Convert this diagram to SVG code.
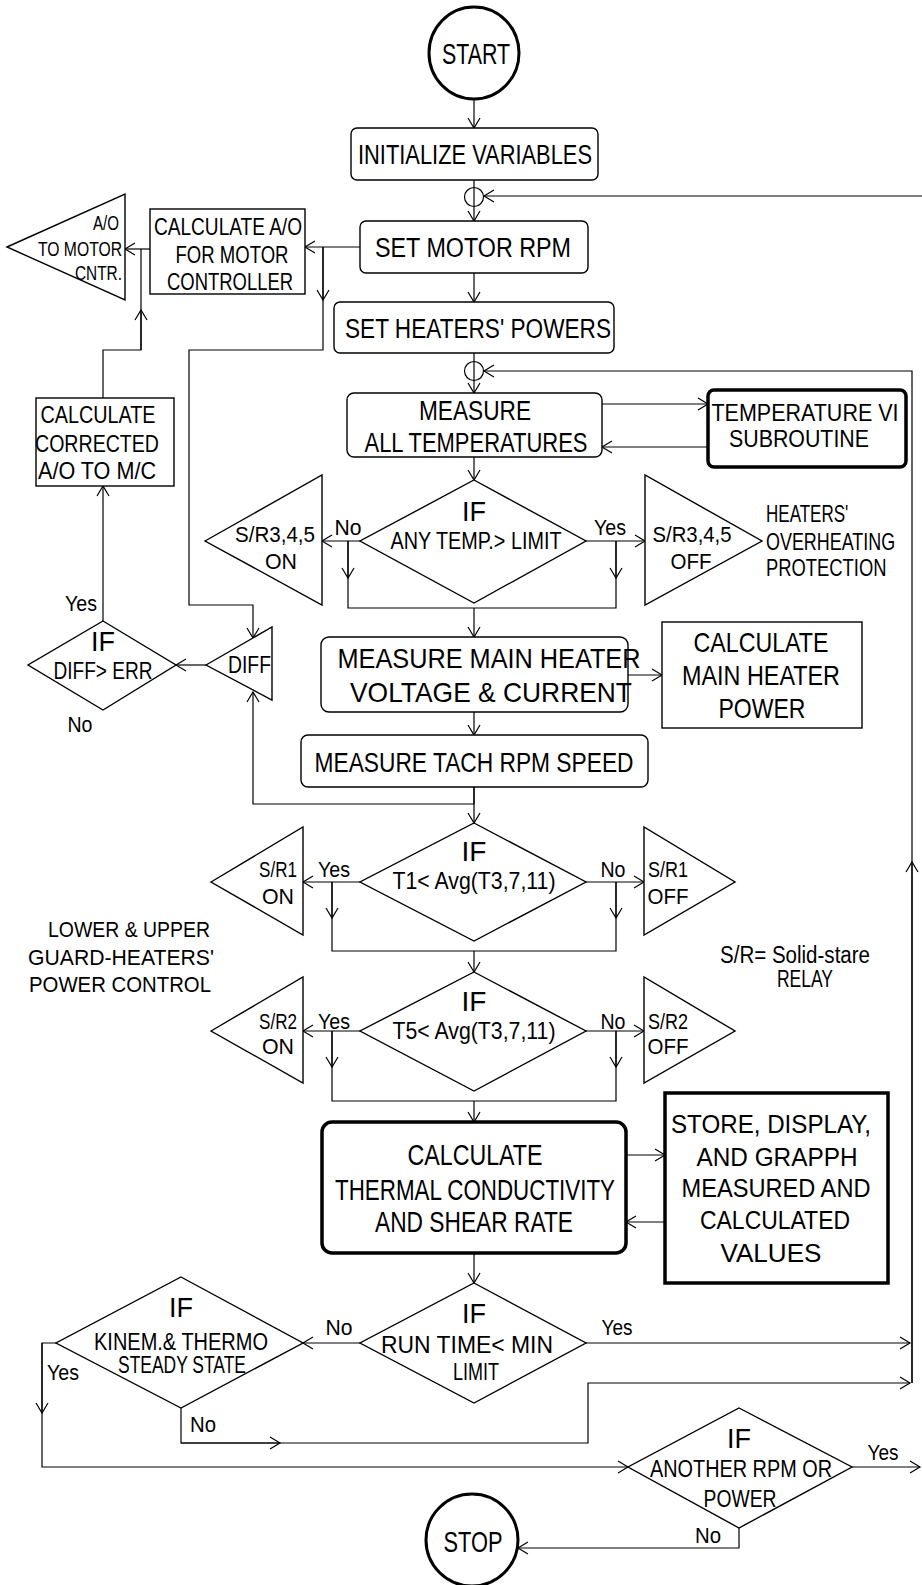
<svg xmlns="http://www.w3.org/2000/svg" width="922" height="1585" viewBox="0 0 922 1585">
<style>
text{font-family:"Liberation Sans",Arial,sans-serif;fill:#000}
.c{text-anchor:middle}
.e{text-anchor:end}
.bx{fill:#fff;stroke:#000;stroke-width:1.4}
.bt{fill:#fff;stroke:#000;stroke-width:3.5}
.ln{fill:none;stroke:#000;stroke-width:1.2}
.f18{font-size:20px}.f20{font-size:22px}.f21{font-size:23px}.f22{font-size:24px}.f23{font-size:25px}.f24{font-size:27px}.f26{font-size:28px}.f27{font-size:29px}
</style>
<defs>
<marker id="a" markerUnits="userSpaceOnUse" markerWidth="14" markerHeight="16" refX="12" refY="8" orient="auto"><path d="M2,2 L12,8 L2,14" fill="none" stroke="#000" stroke-width="1.2"/></marker>
</defs>
<rect width="922" height="1585" fill="#fff"/>
<g id="connectors" class="ln">
<path d="M474,99 V128" marker-end="url(#a)"/>
<path d="M474,180 V221" marker-end="url(#a)"/>
<path d="M922,196 H484" marker-end="url(#a)"/>
<path d="M360,247 H305" marker-end="url(#a)"/>
<path d="M150,249 H125" marker-end="url(#a)"/>
<path d="M103,398 V350 H141 V249"/>
<path d="M141,350 V310" marker-end="url(#a)"/>
<path d="M103,621 V486" marker-end="url(#a)"/>
<path d="M323,247 V350 H189 V605 H253 V638" marker-end="url(#a)"/>
<path d="M323,247 V300" marker-end="url(#a)"/>
<path d="M474,273 V302" marker-end="url(#a)"/>
<path d="M474,353 V393" marker-end="url(#a)"/>
<path d="M912,1383 V371 H484" marker-end="url(#a)"/>
<path d="M912,1383 V862" marker-end="url(#a)"/>
<path d="M602,404 H708" marker-end="url(#a)"/>
<path d="M708,447 H602" marker-end="url(#a)"/>
<path d="M474,457 V480" marker-end="url(#a)"/>
<path d="M360,541 H322" marker-end="url(#a)"/>
<path d="M586,541 H645" marker-end="url(#a)"/>
<path d="M348,541 V608 H616 V541"/>
<path d="M348,541 V578" marker-end="url(#a)"/>
<path d="M616,541 V578" marker-end="url(#a)"/>
<path d="M474,608 V637" marker-end="url(#a)"/>
<path d="M206,665 H176" marker-end="url(#a)"/>
<path d="M474,787 V804 H253 V692" marker-end="url(#a)"/>
<path d="M474,787 V823" marker-end="url(#a)"/>
<path d="M628,675 H662" marker-end="url(#a)"/>
<path d="M474,712 V735" marker-end="url(#a)"/>
<path d="M360,882 H303" marker-end="url(#a)"/>
<path d="M586,882 H644" marker-end="url(#a)"/>
<path d="M332,882 V951 H616 V882"/>
<path d="M332,882 V918" marker-end="url(#a)"/>
<path d="M616,882 V918" marker-end="url(#a)"/>
<path d="M474,951 V972" marker-end="url(#a)"/>
<path d="M360,1031 H303" marker-end="url(#a)"/>
<path d="M586,1031 H644" marker-end="url(#a)"/>
<path d="M332,1031 V1101 H616 V1031"/>
<path d="M332,1031 V1067" marker-end="url(#a)"/>
<path d="M616,1031 V1067" marker-end="url(#a)"/>
<path d="M474,1101 V1122" marker-end="url(#a)"/>
<path d="M626,1155 H665" marker-end="url(#a)"/>
<path d="M665,1222 H626" marker-end="url(#a)"/>
<path d="M474,1253 V1283" marker-end="url(#a)"/>
<path d="M360,1343 H303" marker-end="url(#a)"/>
<path d="M586,1343 H910" marker-end="url(#a)"/>
<path d="M56,1343 H42 V1467 H628" marker-end="url(#a)"/>
<path d="M42,1343 V1413" marker-end="url(#a)"/>
<path d="M181,1408 V1443 H588 V1383 H910" marker-end="url(#a)"/>
<path d="M181,1443 H280" marker-end="url(#a)"/>
<path d="M852,1467 H920" marker-end="url(#a)"/>
<path d="M739,1528 V1548 H518" marker-end="url(#a)"/>
</g>
<g id="start"><ellipse cx="474" cy="53" rx="45" ry="46" fill="#fff" stroke="#000" stroke-width="3"/><text class="c f27" x="476" y="64" textLength="68" lengthAdjust="spacingAndGlyphs">START</text></g>
<g id="init"><rect class="bx" x="351" y="128" width="247" height="52" rx="6"/><text class="c f24" x="475" y="164" textLength="234" lengthAdjust="spacingAndGlyphs">INITIALIZE VARIABLES</text></g>
<g id="join1"><circle cx="474" cy="197" r="9.5" fill="none" stroke="#000" stroke-width="1.2"/></g>
<g id="setmotor"><rect class="bx" x="360" y="221" width="228" height="52" rx="6"/><text class="c f24" x="473" y="257" textLength="196" lengthAdjust="spacingAndGlyphs">SET  MOTOR RPM</text></g>
<g id="calcao"><rect class="bx" x="150" y="209" width="155" height="85"/>
<text class="c f22" x="228" y="235" textLength="148" lengthAdjust="spacingAndGlyphs">CALCULATE A/O</text>
<text class="c f22" x="232" y="263" textLength="113" lengthAdjust="spacingAndGlyphs">FOR MOTOR</text>
<text class="c f22" x="230" y="290" textLength="126" lengthAdjust="spacingAndGlyphs">CONTROLLER</text></g>
<g id="aoout"><polygon class="bx" points="7,247 125,194 125,300"/>
<text class="e f18" x="119" y="230" textLength="26" lengthAdjust="spacingAndGlyphs">A/O</text>
<text class="e f18" x="122" y="256" textLength="84" lengthAdjust="spacingAndGlyphs">TO MOTOR</text>
<text class="e f18" x="122" y="280" textLength="47" lengthAdjust="spacingAndGlyphs">CNTR.</text></g>
<g id="setheaters"><rect class="bx" x="334" y="302" width="280" height="51" rx="6"/><text class="c f24" x="478" y="338" textLength="266" lengthAdjust="spacingAndGlyphs">SET  HEATERS' POWERS</text></g>
<g id="join2"><circle cx="474" cy="371" r="9.5" fill="none" stroke="#000" stroke-width="1.2"/></g>
<g id="measureall"><rect class="bx" x="347" y="393" width="255" height="64" rx="7"/>
<text class="c f24" x="475" y="420" textLength="112" lengthAdjust="spacingAndGlyphs">MEASURE</text>
<text class="c f24" x="476" y="452" textLength="223" lengthAdjust="spacingAndGlyphs">ALL TEMPERATURES</text></g>
<g id="tempvi"><rect class="bt" x="708" y="390" width="198" height="77" rx="6"/>
<text class="c f22" x="805" y="421" textLength="187" lengthAdjust="spacingAndGlyphs">TEMPERATURE VI</text>
<text class="c f22" x="799" y="447" textLength="140" lengthAdjust="spacingAndGlyphs">SUBROUTINE</text></g>
<g id="iftemp"><polygon class="bx" points="474,480 586,541 474,603 360,541"/>
<text class="c f24" x="474" y="521">IF</text>
<text class="c f21" x="476" y="549" textLength="171" lengthAdjust="spacingAndGlyphs">ANY TEMP.&gt; LIMIT</text>
<text class="c f20" x="348" y="535" textLength="27" lengthAdjust="spacingAndGlyphs">No</text>
<text class="c f20" x="610" y="535" textLength="32" lengthAdjust="spacingAndGlyphs">Yes</text></g>
<g id="sr345on"><polygon class="bx" points="205,541 322,475 322,605"/>
<text class="c f20" x="275" y="542" textLength="80" lengthAdjust="spacingAndGlyphs">S/R3,4,5</text>
<text class="c f20" x="281" y="569" textLength="32" lengthAdjust="spacingAndGlyphs">ON</text></g>
<g id="sr345off"><polygon class="bx" points="645,475 645,605 762,541"/>
<text class="c f20" x="692" y="542" textLength="79" lengthAdjust="spacingAndGlyphs">S/R3,4,5</text>
<text class="c f20" x="691" y="569" textLength="41" lengthAdjust="spacingAndGlyphs">OFF</text></g>
<g id="note1">
<text class="f21" transform="translate(766,522) scale(0.74,1)" x="0" y="0">HEATERS'</text>
<text class="f21" transform="translate(766,550) scale(0.78,1)" x="0" y="0">OVERHEATING</text>
<text class="f21" transform="translate(766,576) scale(0.8,1)" x="0" y="0">PROTECTION</text></g>
<g id="calccorr"><rect class="bx" x="36" y="398" width="138" height="88"/>
<text class="c f22" x="98" y="423" textLength="115" lengthAdjust="spacingAndGlyphs">CALCULATE</text>
<text class="c f22" x="97" y="452" textLength="124" lengthAdjust="spacingAndGlyphs">CORRECTED</text>
<text class="c f22" x="97" y="479" textLength="118" lengthAdjust="spacingAndGlyphs">A/O TO M/C</text>
<text class="c f20" x="81" y="611" textLength="32" lengthAdjust="spacingAndGlyphs">Yes</text></g>
<g id="ifdiff"><polygon class="bx" points="103,621 176,665 103,710 28,665"/>
<text class="c f24" x="103" y="651">IF</text>
<text class="c f21" x="103" y="679" textLength="99" lengthAdjust="spacingAndGlyphs">DIFF&gt; ERR</text>
<text class="c f20" x="80" y="732" textLength="25" lengthAdjust="spacingAndGlyphs">No</text></g>
<g id="diff"><polygon class="bx" points="206,665 272,627 272,700"/>
<text class="e f22" x="271" y="673" textLength="43" lengthAdjust="spacingAndGlyphs">DIFF</text></g>
<g id="measuremain"><rect class="bx" x="321" y="637" width="307" height="75" rx="8"/>
<text class="c f26" x="489" y="668" textLength="303" lengthAdjust="spacingAndGlyphs">MEASURE MAIN  HEATER</text>
<text class="c f26" x="491" y="702" textLength="282" lengthAdjust="spacingAndGlyphs">VOLTAGE &amp;  CURRENT</text></g>
<g id="calcmain"><rect class="bx" x="662" y="622" width="200" height="106"/>
<text class="c f26" x="761" y="652" textLength="135" lengthAdjust="spacingAndGlyphs">CALCULATE</text>
<text class="c f26" x="761" y="685" textLength="158" lengthAdjust="spacingAndGlyphs">MAIN HEATER</text>
<text class="c f26" x="762" y="718" textLength="87" lengthAdjust="spacingAndGlyphs">POWER</text></g>
<g id="tach"><rect class="bx" x="301" y="735" width="347" height="52" rx="7"/>
<text class="c f26" x="474" y="772" textLength="319" lengthAdjust="spacingAndGlyphs">MEASURE TACH RPM  SPEED</text></g>
<g id="ift1"><polygon class="bx" points="474,823 586,882 474,941 360,882"/>
<text class="c f26" x="474" y="861">IF</text>
<text class="c f22" x="474" y="889" textLength="163" lengthAdjust="spacingAndGlyphs">T1&lt; Avg(T3,7,11)</text>
<text class="c f20" x="334" y="877" textLength="32" lengthAdjust="spacingAndGlyphs">Yes</text>
<text class="c f20" x="613" y="877" textLength="25" lengthAdjust="spacingAndGlyphs">No</text></g>
<g id="sr1on"><polygon class="bx" points="211,882 303,827 303,935"/>
<text class="c f20" x="278" y="877" textLength="38" lengthAdjust="spacingAndGlyphs">S/R1</text>
<text class="c f20" x="278" y="904" textLength="32" lengthAdjust="spacingAndGlyphs">ON</text></g>
<g id="sr1off"><polygon class="bx" points="644,827 644,935 735,882"/>
<text class="c f20" x="668" y="877" textLength="40" lengthAdjust="spacingAndGlyphs">S/R1</text>
<text class="c f20" x="668" y="904" textLength="41" lengthAdjust="spacingAndGlyphs">OFF</text></g>
<g id="note2">
<text class="e f20" x="210" y="937" textLength="162" lengthAdjust="spacingAndGlyphs">LOWER &amp; UPPER</text>
<text class="e f20" x="214" y="965" textLength="186" lengthAdjust="spacingAndGlyphs">GUARD-HEATERS'</text>
<text class="e f20" x="211" y="992" textLength="182" lengthAdjust="spacingAndGlyphs">POWER CONTROL</text></g>
<g id="note3">
<text class="c f21" x="795" y="963" textLength="150" lengthAdjust="spacingAndGlyphs">S/R= Solid-stare</text>
<text class="c f21" x="805" y="987" textLength="56" lengthAdjust="spacingAndGlyphs">RELAY</text></g>
<g id="ift5"><polygon class="bx" points="474,972 586,1031 474,1091 360,1031"/>
<text class="c f26" x="474" y="1011">IF</text>
<text class="c f22" x="474" y="1039" textLength="163" lengthAdjust="spacingAndGlyphs">T5&lt; Avg(T3,7,11)</text>
<text class="c f20" x="334" y="1029" textLength="32" lengthAdjust="spacingAndGlyphs">Yes</text>
<text class="c f20" x="613" y="1029" textLength="25" lengthAdjust="spacingAndGlyphs">No</text></g>
<g id="sr2on"><polygon class="bx" points="211,1031 303,977 303,1083"/>
<text class="c f20" x="278" y="1029" textLength="38" lengthAdjust="spacingAndGlyphs">S/R2</text>
<text class="c f20" x="278" y="1054" textLength="32" lengthAdjust="spacingAndGlyphs">ON</text></g>
<g id="sr2off"><polygon class="bx" points="644,977 644,1083 735,1031"/>
<text class="c f20" x="668" y="1029" textLength="40" lengthAdjust="spacingAndGlyphs">S/R2</text>
<text class="c f20" x="668" y="1054" textLength="41" lengthAdjust="spacingAndGlyphs">OFF</text></g>
<g id="store"><rect class="bt" x="665" y="1093" width="223" height="190"/>
<text class="c f23" x="771" y="1133" textLength="200" lengthAdjust="spacingAndGlyphs">STORE,  DISPLAY,</text>
<text class="c f23" x="777" y="1166" textLength="161" lengthAdjust="spacingAndGlyphs">AND  GRAPPH</text>
<text class="c f23" x="776" y="1197" textLength="189" lengthAdjust="spacingAndGlyphs">MEASURED  AND</text>
<text class="c f23" x="775" y="1229" textLength="150" lengthAdjust="spacingAndGlyphs">CALCULATED</text>
<text class="c f23" x="771" y="1262" textLength="101" lengthAdjust="spacingAndGlyphs">VALUES</text></g>
<g id="calcthermal"><rect class="bt" x="322" y="1122" width="304" height="131" rx="10"/>
<text class="c f27" x="475" y="1165" textLength="135" lengthAdjust="spacingAndGlyphs">CALCULATE</text>
<text class="c f27" x="475" y="1200" textLength="280" lengthAdjust="spacingAndGlyphs">THERMAL CONDUCTIVITY</text>
<text class="c f27" x="474" y="1232" textLength="198" lengthAdjust="spacingAndGlyphs">AND  SHEAR RATE</text></g>
<g id="ifrun"><polygon class="bx" points="474,1283 586,1343 474,1403 360,1343"/>
<text class="c f24" x="474" y="1323">IF</text>
<text class="c f21" x="467" y="1353" textLength="172" lengthAdjust="spacingAndGlyphs">RUN  TIME&lt;  MIN</text>
<text class="c f21" x="476" y="1380" textLength="46" lengthAdjust="spacingAndGlyphs">LIMIT</text>
<text class="c f20" x="339" y="1335" textLength="27" lengthAdjust="spacingAndGlyphs">No</text>
<text class="c f20" x="617" y="1335" textLength="31" lengthAdjust="spacingAndGlyphs">Yes</text></g>
<g id="ifsteady"><polygon class="bx" points="181,1277 303,1343 181,1408 56,1343"/>
<text class="c f24" x="181" y="1317">IF</text>
<text class="c f21" x="181" y="1350" textLength="174" lengthAdjust="spacingAndGlyphs">KINEM.&amp; THERMO</text>
<text class="c f21" x="182" y="1373" textLength="128" lengthAdjust="spacingAndGlyphs">STEADY STATE</text>
<text class="c f20" x="63" y="1380" textLength="32" lengthAdjust="spacingAndGlyphs">Yes</text>
<text class="c f20" x="203" y="1432" textLength="26" lengthAdjust="spacingAndGlyphs">No</text></g>
<g id="ifanother"><polygon class="bx" points="739,1408 852,1467 739,1528 628,1467"/>
<text class="c f24" x="739" y="1448">IF</text>
<text class="c f21" x="741" y="1477" textLength="182" lengthAdjust="spacingAndGlyphs">ANOTHER RPM  OR</text>
<text class="c f21" x="740" y="1507" textLength="73" lengthAdjust="spacingAndGlyphs">POWER</text>
<text class="c f20" x="883" y="1460" textLength="31" lengthAdjust="spacingAndGlyphs">Yes</text>
<text class="c f20" x="708" y="1543" textLength="26" lengthAdjust="spacingAndGlyphs">No</text></g>
<g id="stop"><ellipse cx="472" cy="1540" rx="46" ry="46" fill="#fff" stroke="#000" stroke-width="3"/><text class="c f27" x="473" y="1552" textLength="59" lengthAdjust="spacingAndGlyphs">STOP</text></g>
</svg>
